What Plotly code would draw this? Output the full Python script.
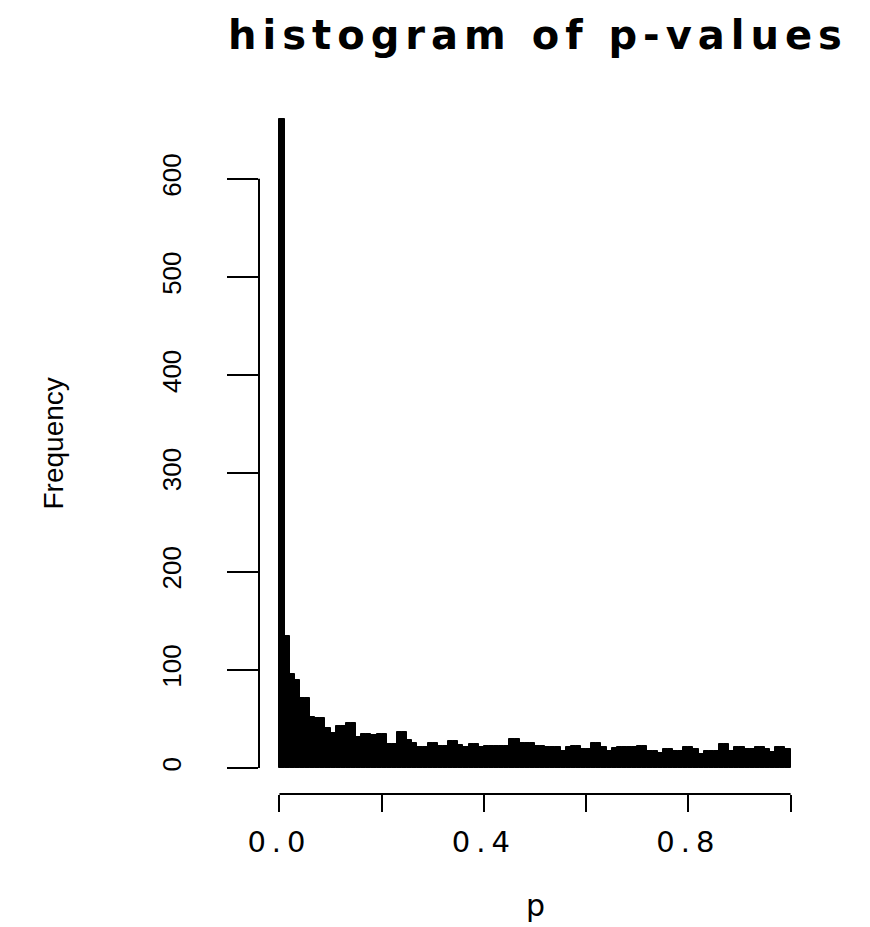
import plotly.graph_objects as go

# ---- data ----
bin_start = 0.0
bin_width = 0.01
counts = [661, 134, 96, 90, 71, 71, 52, 51, 51, 41,
          36, 43, 43, 46, 46, 32, 35, 35, 34, 35,
          35, 24, 24, 37, 37, 29, 26, 21, 21, 26,
          26, 22, 22, 28, 28, 23, 21, 24, 24, 21,
          22, 22, 22, 22, 22, 30, 30, 26, 26, 26,
          22, 22, 21, 21, 21, 17, 21, 22, 22, 19,
          19, 26, 26, 21, 17, 20, 21, 21, 21, 21,
          22, 22, 17, 17, 15, 19, 19, 17, 17, 21,
          21, 19, 14, 17, 17, 17, 24, 24, 17, 21,
          21, 19, 19, 21, 21, 19, 16, 21, 21, 19]
x_tick_vals = [0.0, 0.2, 0.4, 0.6, 0.8, 1.0]
x_tick_text = ["0.0", "", "0.4", "", "0.8", ""]
y_tick_vals = [0, 100, 200, 300, 400, 500, 600]
y_tick_text = ["0", "100", "200", "300", "400", "500", "600"]
title_text = "histogram of p-values"
x_title = "p"
y_title = "Frequency"

centers = [bin_start + (i + 0.5) * bin_width for i in range(len(counts))]
ymax = max(counts)
xmin, xmax = bin_start, bin_start + bin_width * len(counts)
pad_x = 0.04 * (xmax - xmin)

W, H = 870, 927
ML, MR, MT, MB = 259, 59, 93, 133

def spaced(t, px):
    return '<span style="letter-spacing:%dpx">%s</span>' % (px, t)

fig = go.Figure()
fig.add_trace(go.Bar(x=centers, y=counts, width=bin_width,
                     marker=dict(color="black", line=dict(color="black", width=1)),
                     hoverinfo="x+y", showlegend=False))

fig.update_layout(
    width=W, height=H,
    margin=dict(l=ML, r=MR, t=MT, b=MB, pad=0),
    plot_bgcolor="white", paper_bgcolor="white",
    bargap=0,
    title=dict(text="<b>" + spaced(title_text, 6) + "</b>",
               x=(ML + (W - MR - ML) / 2 + 3) / W, xanchor="center", xref="container",
               y=1 - 35 / H, yanchor="middle", yref="container",
               font=dict(family="DejaVu Sans", size=40, color="black")),
    xaxis=dict(range=[xmin - pad_x, xmax + pad_x], showgrid=False, zeroline=False,
               showline=False, tickmode="array", tickvals=x_tick_vals,
               ticktext=[spaced(t, 6) if t else "" for t in x_tick_text],
               ticks="outside", ticklen=17, tickwidth=2, tickcolor="black",
               ticklabelstandoff=5,
               tickfont=dict(family="DejaVu Sans", size=29, color="black")),
    yaxis=dict(range=[-0.04 * ymax, 1.04 * ymax], showgrid=False, zeroline=False,
               showline=False, tickmode="array", tickvals=y_tick_vals,
               ticktext=y_tick_text, tickangle=-90,
               ticks="outside", ticklen=31, tickwidth=2, tickcolor="black",
               ticklabelstandoff=36,
               tickfont=dict(family="Liberation Sans", size=26, color="black")),
)

# R-style detached axis lines spanning first to last tick
fig.add_shape(type="line", xref="paper", yref="y", x0=0, x1=0,
              y0=y_tick_vals[0], y1=y_tick_vals[-1], line=dict(color="black", width=2))
fig.add_shape(type="line", xref="x", yref="paper", x0=x_tick_vals[0], x1=x_tick_vals[-1],
              y0=0, y1=0, line=dict(color="black", width=2))

fig.add_annotation(text=x_title, xref="paper", yref="paper", x=0.5, y=0,
                   yshift=-(905 - (H - MB)), yanchor="middle", showarrow=False,
                   font=dict(family="DejaVu Sans", size=30, color="black"))
fig.add_annotation(text=y_title, xref="paper", yref="paper", x=0, xshift=53 - ML,
                   y=0.5, textangle=-90, xanchor="center", showarrow=False,
                   font=dict(family="Liberation Sans", size=28, color="black"))

fig.write_html("out.html")
